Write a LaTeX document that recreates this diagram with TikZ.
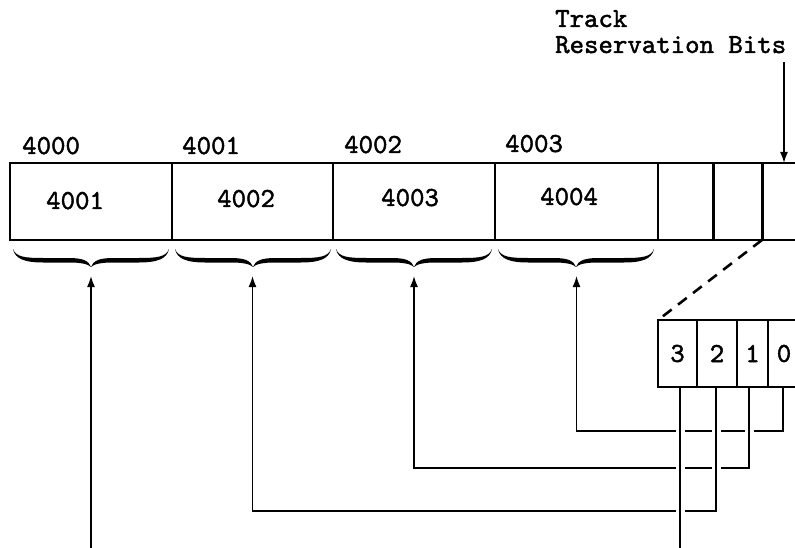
\documentclass[tikz,border=0pt]{standalone}
\usepackage{fontspec}
\newfontfamily\typew{lmmono10-regular.otf}[FakeBold=1.6]
\usetikzlibrary{positioning, arrows.meta, calc}

\begin{document}
\begin{tikzpicture}[
  x=1pt, y=-1pt,
  font=\typew\fontsize{27.5}{27.5}\selectfont,
  word/.style  = {draw, line width=1.4pt, outer sep=0pt, minimum height=77pt, inner sep=0pt, anchor=north west},
  bitbox/.style = {draw, line width=1.3pt, outer sep=0pt, minimum height=67pt, inner sep=0pt, anchor=north west},
  addr/.style  = {anchor=base west, inner sep=0pt},
  arr/.style   = {-{Latex[length=11pt,width=8pt]}, line width=1.6pt},
  lead/.style  = {line width=1.6pt},
  hop/.style   = {draw=white, line width=9pt},
  zoomline/.style = {dash pattern=on 11pt off 8pt, line width=2.6pt},
  divider/.style  = {line width=3pt},
  wordbrace/.pic = {
    \fill (0,0) .. controls (3,8) and (12,9) .. (30,9) -- (56,9)
      .. controls (70,9) and (76,12) .. (78,18)
      .. controls (80,12) and (86,9) .. (100,9) -- (126,9)
      .. controls (144,9) and (153,8) .. (156,0)
      .. controls (154,10) and (144,13.5) .. (126,13.5) -- (100,13.5)
      .. controls (88,13.5) and (81,15) .. (78,18)
      .. controls (75,15) and (68,13.5) .. (56,13.5) -- (30,13.5)
      .. controls (12,13.5) and (2,10) .. (0,0) -- cycle;
  },
]
\useasboundingbox (0,0) rectangle (795,548);

% =============================================================
% Track row -- four chained words and the reservation field
% =============================================================
\node[word, minimum width=162pt] (w0) at (10,163) {};
\node[word, minimum width=161pt] (w1) at (w0.north east) {};
\node[word, minimum width=162pt] (w2) at (w1.north east) {};
\node[word, minimum width=163pt] (w3) at (w2.north east) {};
\node[word, minimum width=55pt]  (t0) at (w3.north east) {};
\node[word, minimum width=49pt]  (t1) at (t0.north east) {};
\node[word, minimum width=44pt]  (t2) at (t1.north east) {};
\draw[divider] (t1.north west) -- (t1.south west);
\draw[divider] (t2.north west) -- (t2.south west);

% addresses above the words
\node[addr] (a0) at (22,154)  {4000};
\node[addr] (a1) at (182,154) {4001};
\node[addr] (a2) at (344,153) {4002};
\node[addr] (a3) at (505,152) {4003};

% link values held in the words
\node[addr] (v0) at (46,209)  {4001};
\node[addr] (v1) at (217,207) {4002};
\node[addr] (v2) at (381,206) {4003};
\node[addr] (v3) at (540,205) {4004};

% label for the reservation field
\node[addr] (lab1) at (555,27) {Track};
\node[addr] (lab2) at (555,53) {Reservation Bits};
\draw[arr] ([yshift=101pt]t2.north) -- (t2.north);

% braces under each word, arrow tips just below them
\foreach \i in {0,...,3} {
  \pic at ([xshift=3pt,yshift=-9pt]w\i.south west) {wordbrace};
  \coordinate (tip\i) at ([yshift=-36pt]w\i.south);
}

% =============================================================
% Expanded reservation bits
% =============================================================
\node[bitbox, minimum width=39pt] (b3) at (658,320) {3};
\node[bitbox, minimum width=40pt] (b2) at (b3.north east) {2};
\node[bitbox, minimum width=31pt] (b1) at (b2.north east) {1};
\node[bitbox, minimum width=32pt] (b0) at (b1.north east) {0};
\draw[zoomline] (t2.south west) -- (b3.north west);

% leads from each bit back to its word (horizontals broken where crossed)
\coordinate (base) at (0,550);
\draw[arr] ([xshift=-1pt]b0.south) -- ++(0,44) -| (tip3);
\draw[hop] ([xshift=-3.5pt,yshift=-5pt]b1.south) -- ++(0,70);
\draw[arr] ([xshift=-3.5pt]b1.south) -- ++(0,81) -| (tip2);
\draw[hop] ([xshift=-1pt,yshift=-5pt]b2.south) -- ++(0,110);
\draw[arr] ([xshift=-1pt]b2.south) -- ++(0,124) -| (tip1);
\draw[hop] ([xshift=2.5pt,yshift=-5pt]b3.south) -- ([xshift=2.5pt]b3.south |- base);
\draw[lead] ([xshift=2.5pt]b3.south) -- ([xshift=2.5pt]b3.south |- base);
\draw[arr] (tip0 |- base) -- (tip0);

\end{tikzpicture}
\end{document}
